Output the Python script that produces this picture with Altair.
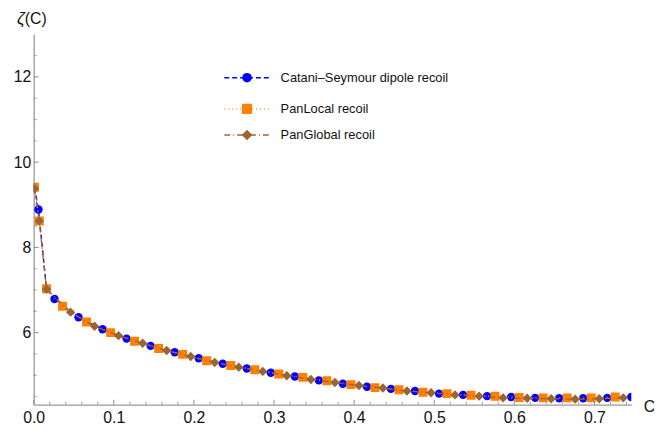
import altair as alt
import pandas as pd

# ---------------- data ----------------
cs_x = [0.001, 0.006, 0.016] + [round(0.026 + 0.03 * k, 3) for k in range(25)]
cs_y = [9.40, 8.89, 7.03,
        6.79, 6.36, 6.08, 5.86, 5.69, 5.54, 5.40, 5.27, 5.16, 5.06,
        4.97, 4.88, 4.80, 4.73, 4.68, 4.63, 4.57, 4.54, 4.51, 4.49,
        4.47, 4.46, 4.46, 4.47, 4.49]

pl_x = [0.001, 0.007, 0.016] + [round(0.036 + 0.03 * k, 3) for k in range(24)]
pl_y = [9.41, 8.62, 7.03,
        6.62, 6.25, 6.00, 5.80, 5.63, 5.49, 5.34, 5.23, 5.13, 5.03,
        4.95, 4.87, 4.78, 4.71, 4.66, 4.60, 4.57, 4.53, 4.51, 4.48,
        4.47, 4.47, 4.47, 4.49]

pg_x = [0.001, 0.007, 0.016] + [round(0.046 + 0.03 * k, 3) for k in range(24)]
pg_y = [9.38, 8.62, 7.02,
        6.48, 6.15, 5.93, 5.75, 5.58, 5.44, 5.30, 5.19, 5.09, 4.99,
        4.90, 4.83, 4.76, 4.70, 4.63, 4.59, 4.54, 4.51, 4.47, 4.46,
        4.45, 4.44, 4.45, 4.47]

series_names = ["Catani\u2013Seymour dipole recoil", "PanLocal recoil", "PanGlobal recoil"]
y_title_symbol = ["\u03b6"]
y_title_arg = ["(C)"]

x_major = [0.0, 0.1, 0.2, 0.3, 0.4, 0.5, 0.6, 0.7]
x_minor = [round(0.02 * i, 2) for i in range(38) if i % 5 != 0]
y_major = [6, 8, 10, 12]
y_minor = [4.5, 5, 5.5, 6.5, 7, 7.5, 8.5, 9, 9.5, 10.5, 11, 11.5, 12.5]

# ---------------- styles ----------------
W, H = 605, 375
FONT = "Liberation Sans"
AXIS_GRAY = "#9a9a9a"
colors = ["#0000ff", "#ff8000", "#996633"]
dashes = [[5, 3], [1, 3], [6, 3, 1, 3]]
shapes = ["circle", "square", "diamond"]
sizes = [72, 82, 90]
legend_y = [44, 75.5, 102]

xscale = alt.Scale(domain=[0, 0.746], nice=False, zero=False)
yscale = alt.Scale(domain=[4.31, 13.0], nice=False, zero=False)

xaxis = alt.Axis(values=x_major, format=".1f", ticks=False, tickSize=0, grid=False,
                 labelFlush=False, labelOverlap=False,
                 domainColor=AXIS_GRAY, domainWidth=1.3, labelPadding=5,
                 labelFontSize=16, labelFont=FONT, labelColor="#111",
                 title="C", titleAngle=0, titleX=W + 12, titleY=2,
                 titleAlign="left", titleBaseline="middle", titleFontSize=16,
                 titleFont=FONT, titleFontWeight="normal", titleColor="#111")
yaxis = alt.Axis(values=y_major, format="d", ticks=False, tickSize=0, grid=False,
                 labelFlush=False, labelOverlap=False,
                 domainColor=AXIS_GRAY, domainWidth=1.3, labelPadding=3,
                 labelFontSize=16, labelFont=FONT, labelColor="#111", title=None)

X = alt.X("x:Q", scale=xscale, axis=xaxis)
Y = alt.Y("y:Q", scale=yscale, axis=yaxis)

layers = []
for xs, ys, name, c, d, s, sz in zip([cs_x, pl_x, pg_x], [cs_y, pl_y, pg_y], series_names,
                                     colors, dashes, shapes, sizes):
    df = pd.DataFrame({"x": xs, "y": ys, "series": name})
    base = alt.Chart(df)
    layers.append(base.mark_line(color=c, strokeDash=d, strokeWidth=1.4, clip=True)
                  .encode(x=X, y=Y))
    layers.append(base.mark_point(shape=s, filled=True, fill=c, strokeWidth=0, size=sz,
                                  opacity=1, clip=True)
                  .encode(x=X, y=Y))

# inward ticks
tick_c = "#8a8a8a"
layers.append(alt.Chart(pd.DataFrame({"x": x_major})).mark_rule(color=tick_c, strokeWidth=1)
              .encode(x=X, y=alt.value(H), y2=alt.value(H - 5)))
layers.append(alt.Chart(pd.DataFrame({"x": x_minor})).mark_rule(color=tick_c, strokeWidth=0.8)
              .encode(x=X, y=alt.value(H), y2=alt.value(H - 3)))
layers.append(alt.Chart(pd.DataFrame({"y": y_major})).mark_rule(color=tick_c, strokeWidth=1)
              .encode(y=Y, x=alt.value(0), x2=alt.value(5)))
layers.append(alt.Chart(pd.DataFrame({"y": y_minor})).mark_rule(color=tick_c, strokeWidth=0.8)
              .encode(y=Y, x=alt.value(0), x2=alt.value(3)))

# y axis title: italic zeta followed by upright (C)
layers.append(alt.Chart(pd.DataFrame({"t": y_title_symbol}))
              .mark_text(align="right", baseline="middle", font=FONT, fontSize=17,
                         fontStyle="italic", color="#111")
              .encode(x=alt.value(-9), y=alt.value(-15), text="t:N"))
layers.append(alt.Chart(pd.DataFrame({"t": y_title_arg}))
              .mark_text(align="left", baseline="middle", font=FONT, fontSize=16, color="#111")
              .encode(x=alt.value(-9), y=alt.value(-15), text="t:N"))

# legend
for name, c, d, s, sz, ly in zip(series_names, colors, dashes, shapes, sizes, legend_y):
    ld = alt.Chart(pd.DataFrame({"label": [name]}))
    layers.append(ld.mark_rule(color=c, strokeDash=d, strokeWidth=1.4)
                  .encode(x=alt.value(193), x2=alt.value(238), y=alt.value(ly)))
    layers.append(ld.mark_point(shape=s, filled=True, fill=c, strokeWidth=0, size=sz * 1.3,
                                opacity=1)
                  .encode(x=alt.value(216), y=alt.value(ly)))
    layers.append(ld.mark_text(align="left", baseline="middle", font=FONT, fontSize=13, color="#111")
                  .encode(x=alt.value(250), y=alt.value(ly), text="label:N"))

chart = alt.layer(*layers).properties(
    width=W, height=H,
    autosize=alt.AutoSizeParams(type="none"),
    padding={"left": 26, "top": 24, "right": 23, "bottom": 20},
).configure_view(stroke=None)

chart.save("out.html", embed_options={"renderer": "svg", "actions": False})
